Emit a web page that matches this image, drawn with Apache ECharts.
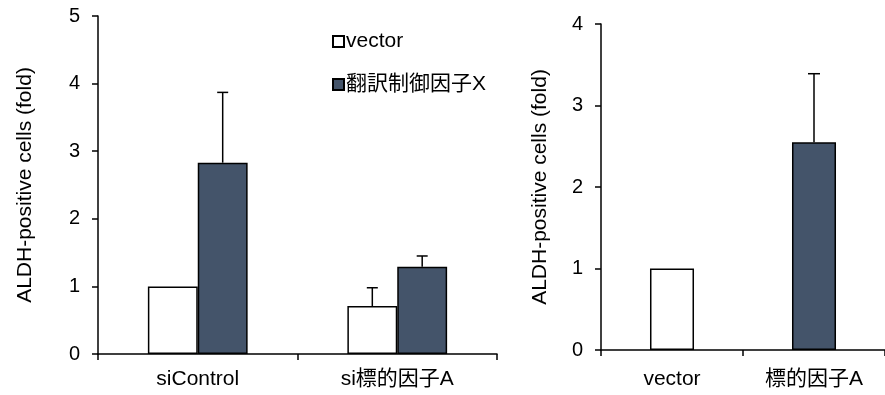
<!DOCTYPE html>
<html>
<head>
<meta charset="utf-8">
<script src="https://cdn.jsdelivr.net/npm/echarts@6/dist/echarts.min.js"></script>
<style>html,body{margin:0;padding:0;background:#fff}#c{width:885px;height:395px}</style>
</head>
<body>
<div id="c"></div>
<script>
// Left chart data
const leftCategories = ['siControl', 'si標的因子A'];
const leftSeriesNames = ['vector', '翻訳制御因子X'];
const leftVector = [1.0, 0.71];
const leftVectorErr = [0, 0.27];
const leftFactor = [2.83, 1.29];
const leftFactorErr = [1.04, 0.16];
const leftTicks = [0, 1, 2, 3, 4, 5];

// Right chart data
const rightCategories = ['vector', '標的因子A'];
const rightValues = [1.0, 2.55];
const rightErr = [0, 0.84];
const rightTicks = [0, 1, 2, 3, 4];

const DARK = '#44546A';
const FONT = "'Liberation Sans', Arial, 'Noto Sans CJK JP', sans-serif";
const chart = echarts.init(document.getElementById('c'), null, {renderer: 'canvas'});

function errItem(offsetFrac, capW) {
  return function (params, api) {
    const ci = api.value(0), v = api.value(1), e = api.value(2);
    if (!e) return null;
    const band = api.size([1, 0])[0];
    const base = api.coord([ci, v]);
    const top = api.coord([ci, v + e]);
    const x = base[0] + band * offsetFrac;
    const st = {stroke: '#000', lineWidth: 1.5};
    return {type: 'group', children: [
      {type: 'line', shape: {x1: x, y1: base[1], x2: x, y2: top[1]}, style: st},
      {type: 'line', shape: {x1: x - capW / 2, y1: top[1], x2: x + capW / 2, y2: top[1]}, style: st}
    ]};
  };
}

const axisLine = {show: true, lineStyle: {color: '#000', width: 1.5}};
const axisTickY = {show: true, inside: false, length: 6, lineStyle: {color: '#000', width: 1.5}};
const tickLabel = {color: '#000', fontSize: 20, fontFamily: FONT};
const catLabel = {color: '#000', fontSize: 21, fontFamily: FONT};
const nameStyle = {color: '#000', fontSize: 21, fontFamily: FONT};

const option = {
  animation: false,
  textStyle: {fontFamily: FONT},
  legend: {
    data: leftSeriesNames,
    orient: 'vertical',
    left: 327, top: 26,
    itemWidth: 11, itemHeight: 11, itemGap: 22,
    icon: 'rect',
    textStyle: {color: '#000', fontSize: 21, fontFamily: FONT, padding: [0, 0, 0, -3]}
  },
  grid: [
    {left: 98, top: 16, width: 399, height: 338},
    {left: 601, top: 24, width: 294, height: 326}
  ],
  xAxis: [
    {gridIndex: 0, type: 'category', data: leftCategories, axisLine: axisLine,
     axisTick: {show: true, length: 6, lineStyle: {color: '#000', width: 1.5}},
     axisLabel: Object.assign({margin: 15}, catLabel)},
    {gridIndex: 1, type: 'category', data: rightCategories, axisLine: axisLine,
     axisTick: {show: true, length: 6, lineStyle: {color: '#000', width: 1.5}},
     axisLabel: Object.assign({margin: 19}, catLabel)}
  ],
  yAxis: [
    {gridIndex: 0, type: 'value', min: leftTicks[0], max: leftTicks[leftTicks.length - 1], interval: 1,
     axisLine: axisLine, axisTick: axisTickY, splitLine: {show: false},
     axisLabel: Object.assign({margin: 18}, tickLabel),
     name: 'ALDH-positive cells (fold)', nameLocation: 'middle', nameGap: 62,
     nameTextStyle: nameStyle},
    {gridIndex: 1, type: 'value', min: rightTicks[0], max: rightTicks[rightTicks.length - 1], interval: 1,
     axisLine: axisLine, axisTick: axisTickY, splitLine: {show: false},
     axisLabel: Object.assign({margin: 18}, tickLabel),
     name: 'ALDH-positive cells (fold)', nameLocation: 'middle', nameGap: 50,
     nameTextStyle: nameStyle}
  ],
  series: [
    {name: leftSeriesNames[0], type: 'bar', xAxisIndex: 0, yAxisIndex: 0, data: leftVector,
     barWidth: '25%', barGap: '0%',
     itemStyle: {color: '#fff', borderColor: '#000', borderWidth: 1.5}},
    {name: leftSeriesNames[1], type: 'bar', xAxisIndex: 0, yAxisIndex: 0, data: leftFactor,
     barWidth: '25%', barGap: '0%',
     itemStyle: {color: DARK, borderColor: '#000', borderWidth: 1.5}},
    {type: 'custom', xAxisIndex: 0, yAxisIndex: 0, z: 1,
     renderItem: errItem(-0.125, 11),
     data: leftVector.map((v, i) => [i, v, leftVectorErr[i]])},
    {type: 'custom', xAxisIndex: 0, yAxisIndex: 0, z: 1,
     renderItem: errItem(0.125, 11),
     data: leftFactor.map((v, i) => [i, v, leftFactorErr[i]])},
    {type: 'bar', xAxisIndex: 1, yAxisIndex: 1, barWidth: '31%',
     data: rightValues.map((v, i) => ({value: v, itemStyle: {color: i === 0 ? '#fff' : DARK}})),
     itemStyle: {borderColor: '#000', borderWidth: 1.5}},
    {type: 'custom', xAxisIndex: 1, yAxisIndex: 1, z: 1,
     renderItem: errItem(0, 12),
     data: rightValues.map((v, i) => [i, v, rightErr[i]])}
  ]
};
chart.setOption(option);
</script>
</body>
</html>
